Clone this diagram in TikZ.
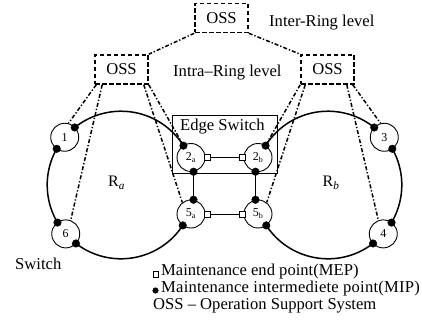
\documentclass[tikz,border=0pt]{standalone}
\usepackage{fontspec}
\setmainfont{Liberation Serif}
\usetikzlibrary{calc}
\definecolor{dotc}{RGB}{0,0,0}
\begin{document}
\begin{tikzpicture}[x=1pt,y=-1pt,
  oss/.style={draw, line width=1.6pt, dash pattern=on 4.5pt off 2.5pt, minimum width=53pt, minimum height=29pt, inner sep=0pt, font=\fontsize{16.6}{18}\selectfont},
  dd/.style={line width=1.5pt, dash pattern=on 4pt off 2pt on 1.3pt off 2pt},
  ring/.style={line width=1.5pt},
  sw/.style={circle, draw, line width=0.9pt, fill=white, minimum size=28pt, inner sep=0pt, font=\fontsize{12}{14}\selectfont},
  mipdot/.style={circle, draw=dotc, fill=dotc, line width=0.5pt, minimum size=7.5pt, inner sep=0pt},
  mep/.style={draw, fill=white, line width=0.9pt, minimum size=6pt, inner sep=0pt},
  txt/.style={anchor=base west, inner sep=0pt, font=\fontsize{16.6}{18}\selectfont}
]
\useasboundingbox (0,0) rectangle (422,320);
\coordinate (ra) at (121,185);
\coordinate (rb) at (328,185);
% rings
\draw[ring] (ra) ++(33.2:73.8) arc[start angle=33.2, end angle=327.8, radius=73.8];
\draw[ring] (rb) ++(146.8:73.8) arc[start angle=146.8, end angle=-147.8, radius=73.8];
% edge switch box
\node[draw, line width=0.9pt, minimum width=105pt, minimum height=58pt, inner sep=0pt] (es) at (224.5,144) {};
\node[txt] (tes) at (180,131) {Edge Switch};
% switches
\node[sw] (n1) at ($(ra)+(220.3:73.8)$) {1};
\node[sw] (n6) at ($(ra)+(138.5:73.8)$) {6};
\node[sw] (n3) at ($(rb)+(-40.3:73.8)$) {3};
\node[sw] (n4) at ($(rb)+(41.5:73.8)$) {4};
\node[sw] (n2a) at (191,157.5) {2\textsubscript{a}};
\node[sw] (n5a) at (191,214) {5\textsubscript{a}};
\node[sw] (n2b) at (258,157.5) {2\textsubscript{b}};
\node[sw] (n5b) at (258,214) {5\textsubscript{b}};
% vertical links
\draw[ring] (n2a.-80) -- (n5a.80);
\draw[ring] (n2b.-100) -- (n5b.100);
% MIP dots
\foreach \a [count=\i] in {209.4,231.2,127.6,149.4,33.2,327.8}
  \node[mipdot] (dA\i) at ($(ra)+(\a:73.8)$) {};
\foreach \a [count=\i] in {-29.4,-51.2,52.4,30.6,146.8,-147.8}
  \node[mipdot] (dB\i) at ($(rb)+(\a:73.8)$) {};
\node[mipdot] (dC1) at (n2a.-80) {};
\node[mipdot] (dC2) at (n5a.80) {};
\node[mipdot] (dC3) at (n2b.-100) {};
\node[mipdot] (dC4) at (n5b.100) {};
% MEP
\node[mep] (m2a) at ([xshift=1.5pt]n2a.east) {};
\node[mep] (m2b) at ([xshift=-1.5pt]n2b.west) {};
\node[mep] (m5a) at ([xshift=1.5pt]n5a.east) {};
\node[mep] (m5b) at ([xshift=-1.5pt]n5b.west) {};
\draw[line width=0.8pt] (m2a) -- (m2b);
\draw[line width=0.8pt] (m5a) -- (m5b);
% OSS
\node[oss] (ot) at (221.5,18) {OSS};
\node[oss] (ol) at (121.5,69.5) {OSS};
\node[oss] (or) at (327.5,69.5) {OSS};
\draw[dd] (ot.south west) -- (ol.north east);
\draw[dd] (ot.south east) -- (or.north west);
\draw[dd] ([xshift=2pt]ol.south west) -- (n1.75);
\draw[dd] ([xshift=8pt]ol.south west) -- (n6.70);
\draw[dd] ([xshift=-5pt]ol.south east) -- (n5a.127);
\draw[dd] (ol.south east) -- (n2a.122);
\draw[dd] ([xshift=-2pt]or.south east) -- (n3.105);
\draw[dd] ([xshift=-8pt]or.south east) -- (n4.110);
\draw[dd] ([xshift=5pt]or.south west) -- (n5b.53);
\draw[dd] (or.south west) -- (n2b.58);
% texts
\node[txt] (tinter) at (269,27) {Inter-Ring level};
\node[txt] (tintra) at (173,77) {Intra–Ring level};
\node[txt] (tsw) at (15,269) {Switch};
\node[font=\fontsize{16}{18}\selectfont, inner sep=0pt] (tra) at (116.5,183) {R\textsubscript{\textit{a}}};
\node[font=\fontsize{16}{18}\selectfont, inner sep=0pt] (trb) at (331,183) {R\textsubscript{\textit{b}}};
% legend
\node[mep, minimum size=5.5pt] (lsq) at (156,274.5) {};
\node[mipdot, minimum size=5.5pt] (ldot) at (155.5,290.5) {};
\node[txt] (l1) at (161,275) {Maintenance end point(MEP)};
\node[txt] (l2) at (161,292) {\addfontfeature{LetterSpace=1.3}Maintenance intermediete point(MIP)};
\node[txt] (l3) at (153,309) {OSS – Operation Support System};
\end{tikzpicture}
\end{document}
